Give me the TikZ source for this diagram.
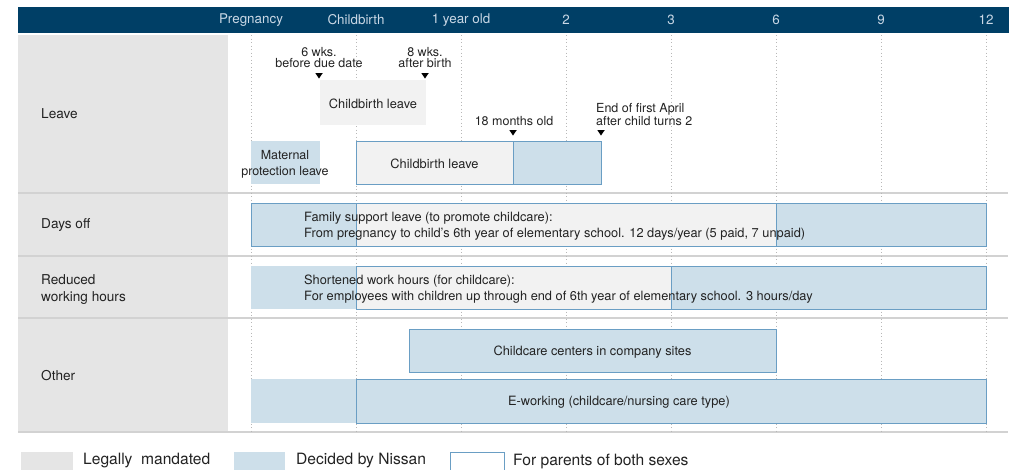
\documentclass[tikz,border=0pt]{standalone}
\usepackage{fontspec}
\setmainfont{TeX Gyre Heros}
\usetikzlibrary{shapes.geometric}

\definecolor{hdrblue}{HTML}{003F66}
\definecolor{hdrtext}{HTML}{CAD8E6}
\definecolor{colgray}{HTML}{E5E5E5}
\definecolor{sepgray}{HTML}{D2D2D2}
\definecolor{dotgray}{HTML}{B8B8B8}
\definecolor{boxgray}{HTML}{F2F2F2}
\definecolor{boxblue}{HTML}{CDDFEA}
\definecolor{edgeblue}{HTML}{6A9EC4}
\definecolor{txt}{HTML}{222222}

\tikzset{
  hdr/.style={text=hdrtext, font=\fontsize{13.4}{15}\selectfont},
  rowlab/.style={anchor=west, align=left, text=txt, inner sep=0, font=\fontsize{13.6}{17}\selectfont},
  lab/.style={text=txt, align=center, inner sep=0, font=\fontsize{12.5}{11}\selectfont},
  boxtxt/.style={text=txt, align=left, inner sep=0, font=\fontsize{12.8}{16}\selectfont},
  legtxt/.style={anchor=west, text=txt, inner sep=0, font=\fontsize{15.6}{17}\selectfont},
  span/.style={anchor=north west, inner sep=0, outer sep=0},
  gbox/.style={span, fill=boxgray},
  bbox/.style={span, fill=boxblue},
  gedge/.style={gbox, draw=edgeblue, line width=1pt},
  bedge/.style={bbox, draw=edgeblue, line width=1pt},
  tri/.style={isosceles triangle, isosceles triangle stretches, shape border rotate=270,
    fill=black, inner sep=0, minimum height=5.5, minimum width=7.5},
  grid/.style={dotgray, line width=0.7pt, dash pattern=on 1pt off 2.5pt},
  sep/.style={sepgray, line width=1.5pt}
}

\begin{document}
\begin{tikzpicture}[x=1pt,y=-1pt]
\useasboundingbox (0,0) rectangle (1018,469);

% Header and label column
\fill[hdrblue] (18,7) rectangle (1009,33);
\fill[colgray] (18,35) rectangle (228,432);
\foreach \y in {193,256,318,432}
  \draw[sep] (18,\y) -- (1008,\y);

% Time axis
\foreach \i/\t in {0/Pregnancy,1/Childbirth,2/1 year old,3/2,4/3,5/6,6/9,7/12} {
  \node[hdr] (t\i) at (251+105*\i,20) {\t};
  \draw[grid] (251+105*\i,35) -- (251+105*\i,432);
}

% Row labels
\node[rowlab] (leave) at (41,114) {Leave};
\node[rowlab] (daysoff) at (41,225) {Days off};
\node[rowlab] (reduced) at (41,289.5) {Reduced\\working hours};
\node[rowlab] (other) at (41,376) {Other};

% Leave
\node[gbox, minimum width=106, minimum height=45] (cbl) at (320,80) {};
\node[boxtxt] at ([yshift=-1.5]cbl.center) {Childbirth leave};
\node[lab] (wk6) at (319,57.5) {6 wks.\\before due date};
\node[lab] (wk8) at (425,57.5) {8 wks.\\after birth};
\node[tri] (m6) at (319,75) {};
\node[tri] (m8) at (425,75) {};

\node[bbox, minimum width=69, minimum height=43] (mpl) at (251,141) {};
\node[lab, font=\fontsize{12.5}{16}\selectfont] at (285,164.5) {Maternal\\protection leave};
\node[gedge, minimum width=157, minimum height=43] (cbl2) at (356,141) {};
\node[boxtxt] at ([yshift=-1.5]cbl2.center) {Childbirth leave};
\node[bedge, minimum width=88, minimum height=43] (ext) at (513,141) {};
\node[lab] (m18) at (514,121) {18 months old};
\node[lab, anchor=west, align=left] (april) at (596,114.5) {End of first April\\after child turns 2};
\node[tri] (t18) at (513,132) {};
\node[tri] (tapr) at (601,132) {};

% Days off
\node[bedge, minimum width=735, minimum height=43] (fsl) at (251,203) {};
\node[gedge, minimum width=420, minimum height=43] (fsl2) at (356,203) {};
\node[boxtxt, anchor=west] at (304,226) {Family support leave (to promote childcare):\\From pregnancy to child’s 6th year of elementary school. 12 days/year (5 paid, 7 unpaid)};

% Reduced working hours
\node[bbox, minimum width=105, minimum height=43] (swh0) at (251,266) {};
\node[gedge, minimum width=315, minimum height=43] (swh) at (356,266) {};
\node[bedge, minimum width=315, minimum height=43] (swh2) at (671,266) {};
\node[boxtxt, anchor=west] at (304,289) {Shortened work hours (for childcare):\\For employees with children up through end of 6th year of elementary school. 3 hours/day};

% Other
\node[bedge, minimum width=367, minimum height=43] (ccc) at (409,329) {};
\node[boxtxt] at ([yshift=-2]ccc.center) {Childcare centers in company sites};
\node[bbox, minimum width=105, minimum height=44] (ew0) at (251,379) {};
\node[bedge, minimum width=630, minimum height=44] (ew) at (356,379) {};
\node[boxtxt] at (619,402.5) {E-working (childcare/nursing care type)};

% Legend
\node[span, fill=colgray, minimum width=52, minimum height=22] (lg1) at (21,452) {};
\node[legtxt] at (83,461) {Legally\ \ mandated};
\node[bbox, minimum width=51, minimum height=22] (lg2) at (234,452) {};
\node[legtxt] at (296,461) {Decided by Nissan};
\node[span, draw=edgeblue, line width=1pt, minimum width=54, minimum height=22] (lg3) at (450,452) {};
\node[legtxt] at (513,461) {For parents of both sexes};

\end{tikzpicture}
\end{document}
